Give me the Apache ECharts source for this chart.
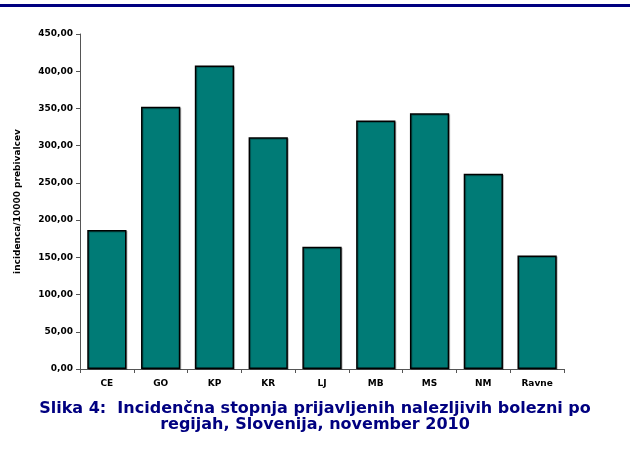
<!DOCTYPE html>
<html>
<head>
<meta charset="utf-8">
<script src="https://cdn.jsdelivr.net/npm/echarts@6/dist/echarts.min.js"></script>
<style>
  html, body { margin: 0; padding: 0; background: #fff; }
  #chart { width: 630px; height: 452px; }
</style>
</head>
<body>
<div id="chart"></div>
<script>
// regije in incidenca na 10000 prebivalcev
const regije = ['CE', 'GO', 'KP', 'KR', 'LJ', 'MB', 'MS', 'NM', 'Ravne']
const incidenca = [186.6, 352.4, 407.6, 311.2, 164.3, 333.7, 343.4, 262.3, 152.3]
const yName = 'incidenca/10000 prebivalcev'
const naslov = 'Slika 4:  Incidenčna stopnja prijavljenih nalezljivih bolezni po\nregijah, Slovenija, november 2010'

const chart = echarts.init(document.getElementById('chart'), null, { renderer: 'canvas' })
const font = 'Tahoma, "DejaVu Sans", sans-serif'

chart.setOption({
  animation: false,
  textStyle: { fontFamily: font },
  graphic: [{
    type: 'rect',
    shape: { x: 0, y: 4, width: 630, height: 3 },
    style: { fill: '#000080' }
  }],
  title: {
    text: naslov,
    left: 'center',
    top: 396,
    textStyle: {
      fontFamily: '"DejaVu Sans", sans-serif',
      fontSize: 16,
      fontWeight: 'bold',
      color: '#000080',
      lineHeight: 16,
      align: 'center'
    }
  },
  grid: { left: 80, right: 66, top: 34, bottom: 83 },
  xAxis: {
    type: 'category',
    data: regije,
    boundaryGap: true,
    axisLine: { lineStyle: { color: '#555', width: 1 } },
    axisTick: { show: true, length: 4, lineStyle: { color: '#555' } },
    axisLabel: { color: '#000', fontWeight: 'bold', fontSize: 9, margin: 10, fontFamily: font }
  },
  yAxis: {
    type: 'value',
    min: 0,
    max: 450,
    interval: 50,
    name: yName,
    nameLocation: 'middle',
    nameGap: 58,
    nameTextStyle: { color: '#000', fontWeight: 'bold', fontSize: 9, fontFamily: font },
    axisLine: { show: true, lineStyle: { color: '#555', width: 1 } },
    axisTick: { show: true, length: 4, lineStyle: { color: '#555' } },
    splitLine: { show: false },
    axisLabel: {
      color: '#000',
      fontWeight: 'bold',
      fontSize: 9,
      margin: 7,
      fontFamily: font,
      formatter: v => v.toFixed(2).replace('.', ',')
    }
  },
  series: [{
    type: 'bar',
    data: incidenca,
    barCategoryGap: '27%',
    itemStyle: {
      color: '#007b76',
      borderColor: '#000',
      borderWidth: 1.5,
      shadowColor: 'rgba(0,0,0,0.25)',
      shadowOffsetX: 1,
      shadowOffsetY: 1
    }
  }]
})
</script>
</body>
</html>
